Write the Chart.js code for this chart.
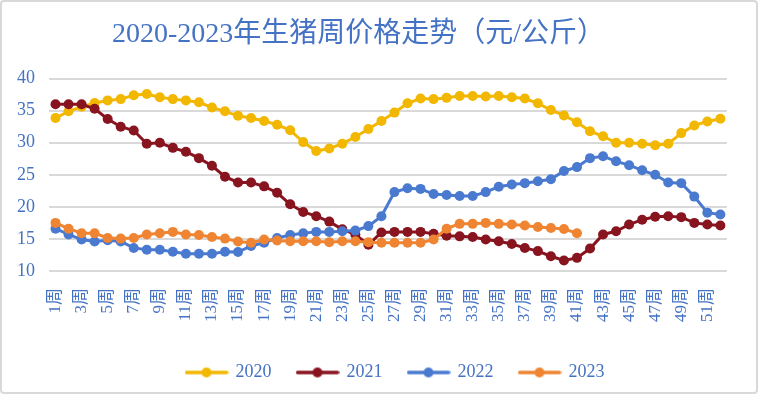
<!DOCTYPE html>
<html><head><meta charset="utf-8">
<script src="https://cdn.jsdelivr.net/npm/chart.js@4"></script>
<style>
html,body{margin:0;padding:0;background:#fff;}
#wrap{position:relative;width:758px;height:394px;overflow:hidden;}
#c{display:block;}
#frame{position:absolute;left:0;top:0;width:758px;height:394px;box-sizing:border-box;border:2px solid #d9d9d9;border-radius:4px;pointer-events:none;}
</style></head><body>
<div id="wrap"><canvas id="c" width="758" height="394"></canvas><div id="frame"></div></div>
<script>
const TITLE = '2020-2023年生猪周价格走势（元/公斤）';
const weeks = ['1周','2周','3周','4周','5周','6周','7周','8周','9周','10周','11周','12周','13周','14周','15周','16周','17周','18周','19周','20周','21周','22周','23周','24周','25周','26周','27周','28周','29周','30周','31周','32周','33周','34周','35周','36周','37周','38周','39周','40周','41周','42周','43周','44周','45周','46周','47周','48周','49周','50周','51周','52周'];
const seriesNames = ['2020','2021','2022','2023'];
const price2020 = [33.85,34.9,35.6,36.2,36.6,36.8,37.4,37.6,37.1,36.8,36.6,36.3,35.5,34.9,34.2,33.85,33.4,32.8,31.95,30.1,28.7,29.1,29.85,30.9,32.15,33.4,34.7,36.15,36.9,36.8,37.0,37.3,37.3,37.2,37.3,37.1,36.9,36.15,35.1,34.25,33.2,31.8,31.0,30.0,30.0,29.85,29.6,29.85,31.5,32.7,33.3,33.75];
const price2021 = [36.0,36.0,36.0,35.3,33.7,32.5,31.9,29.85,30.0,29.2,28.6,27.6,26.4,24.7,23.8,23.8,23.2,22.2,20.4,19.2,18.55,17.7,16.5,15.7,14.1,16.0,16.1,16.1,16.1,15.8,15.5,15.4,15.3,14.9,14.65,14.2,13.6,13.1,12.3,11.65,12.05,13.5,15.7,16.2,17.25,18.0,18.45,18.55,18.4,17.5,17.25,17.1];
const price2022 = [16.6,15.7,14.9,14.6,14.8,14.6,13.6,13.3,13.3,13.0,12.7,12.7,12.7,13.0,12.95,13.9,14.4,15.15,15.6,15.9,16.1,16.1,16.2,16.3,17.0,18.55,22.3,22.9,22.8,22.0,21.85,21.7,21.7,22.3,23.15,23.5,23.7,24.0,24.3,25.6,26.2,27.6,27.9,27.1,26.5,25.7,25.0,23.8,23.7,21.6,19.1,18.8];
const price2023 = [17.5,16.6,15.9,15.9,15.15,15.05,15.15,15.7,15.9,16.1,15.7,15.6,15.3,15.05,14.6,14.4,14.9,14.75,14.65,14.65,14.65,14.5,14.65,14.65,14.5,14.4,14.4,14.4,14.4,14.9,16.6,17.35,17.35,17.5,17.35,17.25,17.1,16.85,16.7,16.55,15.9];
const yMin = 10, yMax = 40, yStep = 5;

const COLORS = ['#F2B700', '#87141F', '#4A7AD0', '#EF8532'];
const TEXT_BLUE = '#4472C4';
const FONT = '"Liberation Serif", "Noto Sans CJK SC", serif';

function legendIcon(color) {
  const cv = document.createElement('canvas');
  cv.width = 44; cv.height = 12;
  const g = cv.getContext('2d');
  g.strokeStyle = color; g.lineWidth = 3.5; g.lineCap = 'round';
  g.beginPath(); g.moveTo(2, 6); g.lineTo(42, 6); g.stroke();
  g.fillStyle = color; g.beginPath(); g.arc(22, 6, 5, 0, Math.PI * 2); g.fill();
  return cv;
}
const icons = COLORS.map(legendIcon);

const LEG_DX = 28, LEG_DY = -2.5;
const shiftPlugin = {
  id: 'shiftBoxes',
  afterLayout(chart) {
    if (chart.titleBlock) { chart.titleBlock.left = 112; }
    const l = chart.legend;
    if (l) { l.left += LEG_DX; l.right += LEG_DX; l.top += LEG_DY; l.bottom += LEG_DY; }
  }
};

const allSeries = [price2020, price2021, price2022, price2023];
const datasets = allSeries.map((d, i) => ({
  label: seriesNames[i],
  data: d,
  borderColor: COLORS[i],
  backgroundColor: COLORS[i],
  pointBackgroundColor: COLORS[i],
  pointBorderWidth: 0,
  pointRadius: 5,
  borderWidth: 3,
  tension: 0,
  fill: false,
  order: 4 - i
}));

new Chart(document.getElementById('c'), {
  type: 'line',
  data: { labels: weeks, datasets },
  plugins: [shiftPlugin],
  options: {
    responsive: false,
    animation: false,
    events: [],
    layout: { padding: { top: 0, left: 0, right: 23, bottom: 0 } },
    plugins: {
      tooltip: { enabled: false },
      title: {
        display: true, text: TITLE, align: 'start', color: TEXT_BLUE,
        font: { family: FONT, size: 28, weight: 'normal' },
        padding: { top: 18, bottom: 27 }
      },
      legend: {
        position: 'bottom',
        labels: {
          usePointStyle: true,
          pointStyleWidth: 40,
          padding: 26,
          color: TEXT_BLUE,
          font: { family: FONT, size: 18 },
          sort: (a, b) => a.datasetIndex - b.datasetIndex,
          generateLabels(chart) {
            const items = Chart.defaults.plugins.legend.labels.generateLabels(chart);
            items.forEach(it => { it.pointStyle = icons[it.datasetIndex]; it.lineWidth = 0; });
            return items;
          }
        }
      }
    },
    scales: {
      x: {
        offset: true,
        grid: { display: false, drawTicks: false },
        border: { display: false },
        ticks: {
          autoSkip: false, minRotation: 90, maxRotation: 90, padding: 17,
          color: TEXT_BLUE, font: { family: FONT, size: 17 },
          callback: function (v, i) { return i % 2 === 0 ? this.getLabelForValue(v) : ''; }
        },
        afterFit(scale) { scale.height = 69; }
      },
      y: {
        min: yMin, max: yMax,
        grid: { color: '#d9d9d9', lineWidth: 2, drawTicks: false },
        border: { display: false },
        ticks: { stepSize: yStep, padding: 14, color: TEXT_BLUE, font: { family: FONT, size: 18 } },
        afterFit(scale) { scale.width = 49; }
      }
    }
  }
});
</script>
</body></html>
